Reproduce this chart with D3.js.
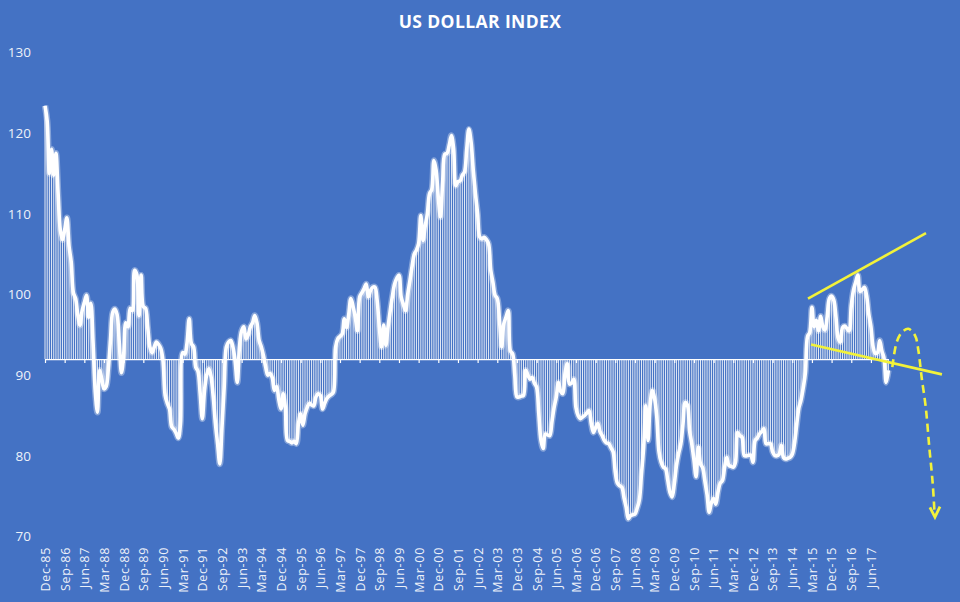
<!DOCTYPE html>
<html><head><meta charset="utf-8">
<script src="https://cdn.jsdelivr.net/npm/d3@7"></script>
<style>
html,body{margin:0;padding:0;background:#4472C4;}
svg{display:block;}
</style></head>
<body>
<script>
// ---- DATA ----
const title = "US DOLLAR INDEX";
const firstMonth = "Dec-85"; // index 0, monthly steps
const values = [
123.4,121.5,115.0,118.0,114.8,117.5,112.5,108.0,106.8,108.0,
109.5,106.0,104.0,100.2,99.5,97.5,96.2,98.0,99.0,99.9,
97.2,98.9,94.0,88.0,85.4,90.6,89.5,88.3,88.6,90.8,
94.5,97.8,98.2,97.5,94.0,90.3,92.5,96.5,96.0,98.3,
98.0,103.0,102.5,97.4,102.4,98.5,98.3,96.0,93.5,92.8,
93.5,94.1,93.8,93.3,91.8,87.5,86.5,85.8,83.6,83.3,
82.8,82.2,84.0,92.8,92.6,94.0,97.0,93.9,93.5,91.0,
90.5,87.8,84.6,88.1,90.0,90.8,89.8,87.3,84.0,81.5,
79.0,83.6,88.5,93.5,94.1,94.3,93.5,91.8,89.1,93.5,
95.5,96.0,94.5,95.0,96.0,96.5,97.4,96.5,94.3,93.5,
92.4,91.0,90.0,90.2,89.7,88.1,88.6,87.0,85.8,87.7,
86.0,81.9,81.8,81.6,81.8,81.5,84.0,85.2,83.8,85.2,
86.0,86.5,86.3,86.2,87.3,87.7,87.5,85.8,86.5,87.1,
87.4,87.6,87.9,93.5,94.5,94.8,95.1,97.0,95.9,97.5,
99.5,98.5,97.2,95.5,99.7,100.2,100.7,101.3,99.7,100.5,
100.9,100.9,99.3,96.0,93.5,96.2,93.7,96.0,98.0,99.8,
101.3,102.0,102.4,99.7,98.8,98.0,100.0,101.7,103.5,105.0,
105.5,106.3,109.8,106.7,108.5,110.0,112.5,113.0,116.6,115.4,
112.0,109.6,114.0,117.4,117.5,118.5,119.7,118.1,113.5,114.0,
114.1,114.8,115.2,118.0,120.5,118.9,115.4,112.5,110.0,107.1,
106.9,107.1,106.8,106.3,103.0,101.5,99.9,99.5,96.8,93.5,
96.4,97.2,98.0,93.0,92.65,90.0,87.3,87.3,87.4,87.5,
90.6,90.0,89.5,89.7,89.0,88.5,85.2,81.9,80.9,82.7,
82.6,82.5,84.2,86.0,87.3,89.1,88.0,87.7,90.2,91.4,
88.9,89.0,89.5,86.0,85.0,84.6,84.8,85.0,85.3,85.6,
84.0,82.9,83.5,84.0,83.0,82.5,81.9,81.6,81.5,81.0,
80.5,78.0,76.6,76.3,76.1,74.8,73.6,72.2,72.6,72.7,
72.8,73.5,74.5,77.8,81.1,86.2,81.9,86.5,88.1,87.1,
84.8,80.5,79.2,78.6,78.4,77.0,75.5,74.9,76.5,78.8,
80.3,81.5,84.0,86.6,86.3,83.1,81.5,79.5,77.4,81.1,
79.0,78.5,76.9,75.2,73.0,74.2,74.7,74.0,75.5,76.6,
76.9,78.5,79.8,78.8,78.7,78.6,79.2,82.9,82.5,82.3,
80.05,80.0,80.05,80.1,79.2,81.9,82.2,82.7,83.0,83.35,
81.5,81.5,81.5,80.5,80.05,80.0,80.2,81.3,79.8,79.6,
79.7,79.8,80.2,81.5,83.8,85.9,86.9,88.4,90.3,94.8,
95.3,98.4,96.0,96.8,95.5,97.3,96.0,95.6,97.3,99.5,
99.8,99.3,97.2,94.6,94.1,95.9,96.1,95.8,95.5,98.6,
100.5,101.5,102.4,100.4,100.6,100.9,99.9,97.6,96.0,93.5,
92.7,92.8,94.3,93.0,92.1,89.1,90.6
];
const baselineValue = 92;          // horizontal axis crosses here
const tickEvery = 9;               // months between category labels
const tickLabels = ["Dec-85","Sep-86","Jun-87","Mar-88","Dec-88","Sep-89","Jun-90","Mar-91","Dec-91","Sep-92","Jun-93","Mar-94","Dec-94","Sep-95","Jun-96","Mar-97","Dec-97","Sep-98","Jun-99","Mar-00","Dec-00","Sep-01","Jun-02","Mar-03","Dec-03","Sep-04","Jun-05","Mar-06","Dec-06","Sep-07","Jun-08","Mar-09","Dec-09","Sep-10","Jun-11","Mar-12","Dec-12","Sep-13","Jun-14","Mar-15","Dec-15","Sep-16","Jun-17"];
const yTicks = [70,80,90,100,110,120,130];
// annotations in (month index, index value)
const upperTrend = [[349.2,99.5],[403.2,107.6]];
const lowerTrend = [[350.6,93.8],[410.5,90.1]];
const projection = [[387.8,91.0],[389.8,94.1],[392.1,95.3],[395.1,95.75],[398.2,94.9],[399.7,93.1],[401.2,89.75],[403.1,86.0],[404.7,81.1],[406.3,76.5],[407.1,72.9]];
const arrowHead = [[405.0,73.6],[407.3,72.4],[409.6,73.7]];

// ---- CHART ----
const W = 960, H = 602;
const svg = d3.select("body").append("svg").attr("width", W).attr("height", H);
svg.append("rect").attr("width", W).attr("height", H).attr("fill", "#4472C4");

const n = values.length;
const x = d3.scaleLinear().domain([0, n - 1]).range([45, 45 + (n - 1) * 2.185]);
const y = d3.scaleLinear().domain([70, 130]).range([536.5, 52.5]);

const font = "'Open Sans', 'Noto Sans', sans-serif";

svg.append("text").attr("x", 480).attr("y", 28).attr("text-anchor", "middle")
  .attr("fill", "#fff").attr("font-family", font).attr("font-weight", 700)
  .attr("font-size", 17.5).attr("letter-spacing", 0.4).text(title);

// y axis labels
const ya = svg.append("g").attr("transform", "translate(33,0)")
  .call(d3.axisLeft(y).tickValues(yTicks).tickSize(0).tickPadding(2));
ya.select(".domain").remove();
ya.selectAll("text").attr("fill", "#EDF1F9").attr("font-family", font).attr("font-size", 13.5);

// drop lines from baseline
svg.append("g").selectAll("line").data(values).join("line")
  .attr("x1", (d, i) => x(i)).attr("x2", (d, i) => x(i))
  .attr("y1", y(baselineValue)).attr("y2", d => y(d))
  .attr("stroke", "#fff").attr("stroke-width", 0.9).attr("stroke-opacity", 0.95);

// category axis at baseline with tick marks
const tickIdx = tickLabels.map((t, k) => k * tickEvery);
const xa = svg.append("g").attr("transform", `translate(0,${y(baselineValue)})`)
  .call(d3.axisBottom(x).tickValues(tickIdx).tickSize(4).tickSizeOuter(0).tickFormat(""));
xa.selectAll("path,line").attr("stroke", "#fff").attr("stroke-width", 1.2);

// category labels at bottom
const xl = svg.append("g").attr("transform", "translate(0,547)")
  .call(d3.axisBottom(x).tickValues(tickIdx).tickSize(0).tickFormat((d, k) => tickLabels[k]));
xl.select(".domain").remove();
xl.selectAll("text").attr("fill", "#EDF1F9").attr("font-family", font).attr("font-size", 12.5)
  .attr("letter-spacing", 0.7)
  .attr("transform", "rotate(-90)").attr("text-anchor", "end")
  .attr("x", 0).attr("y", 0).attr("dx", 0).attr("dy", "0.35em");

// main line
const line = d3.line().x((d, i) => x(i)).y(d => y(d)).curve(d3.curveCatmullRom.alpha(0.5));
svg.append("path").datum(values).attr("d", line).attr("fill", "none")
  .attr("stroke", "#fff").attr("stroke-opacity", 0.35).attr("stroke-width", 6.5)
  .attr("stroke-linejoin", "round");
svg.append("path").datum(values).attr("d", line).attr("fill", "none")
  .attr("stroke", "#fff").attr("stroke-width", 3.6).attr("stroke-linejoin", "round");

// annotations
const pline = d3.line().x(d => x(d[0])).y(d => y(d[1]));
const yellow = "#F2F23A";
[upperTrend, lowerTrend].forEach(t => {
  svg.append("path").datum(t).attr("d", pline).attr("fill", "none")
    .attr("stroke", yellow).attr("stroke-width", 2.6);
});
svg.append("path").datum(projection).attr("d", pline.curve(d3.curveCatmullRom.alpha(0.5)))
  .attr("fill", "none").attr("stroke", yellow).attr("stroke-width", 2.6)
  .attr("stroke-dasharray", "8,5");
svg.append("path").datum(arrowHead).attr("d", d3.line().x(d => x(d[0])).y(d => y(d[1])))
  .attr("fill", "none").attr("stroke", yellow).attr("stroke-width", 2.8)
  .attr("stroke-linejoin", "miter");
</script>
</body></html>
